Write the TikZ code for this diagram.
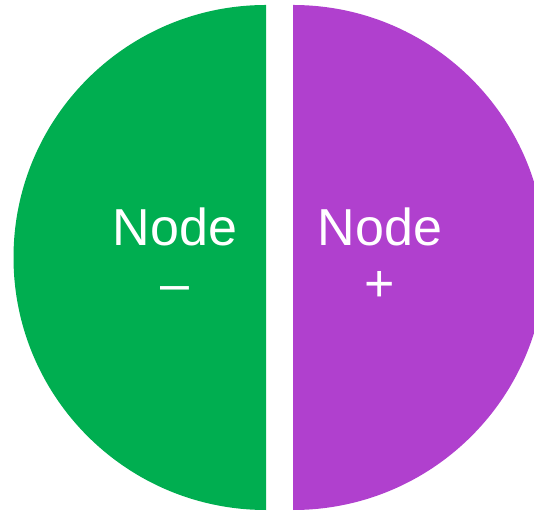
\documentclass[tikz,border=0pt]{standalone}
\usepackage{fontspec}
\setmainfont{Liberation Sans}
\definecolor{halfgreen}{RGB}{0,174,80}
\definecolor{halfpurple}{RGB}{176,64,206}
\begin{document}
\begin{tikzpicture}[x=1pt,y=1pt,
  halflabel/.style={text=white,font=\fontsize{52}{56}\selectfont,align=center,inner sep=0pt,anchor=base}]
\useasboundingbox (0,0) rectangle (534,513);
\clip (0,0) rectangle (534,513);
\fill[halfgreen] (266,255.5) ++(0,252.5) arc[start angle=90,end angle=270,radius=252.5] -- cycle;
\fill[halfpurple] (293,255.5) ++(0,-252.5) arc[start angle=-90,end angle=90,radius=252.5] -- cycle;
\node[halflabel] (minus) at (175,211) {Node\\–};
\node[halflabel] (plus) at (380,211) {Node\\+};
\end{tikzpicture}
\end{document}
